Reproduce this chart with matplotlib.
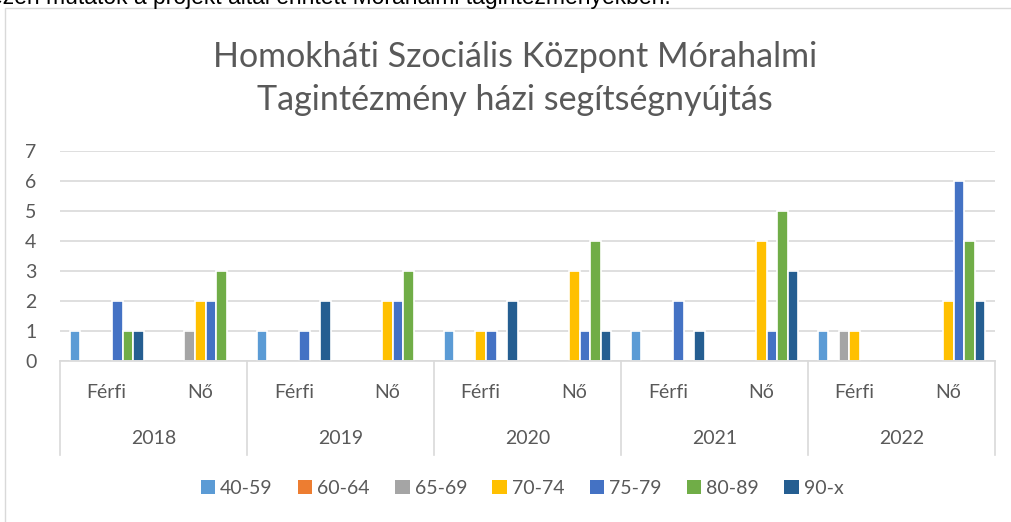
import matplotlib.pyplot as plt
import matplotlib.transforms as mtransforms
from matplotlib.patches import Rectangle
import numpy as np

plt.rcParams['font.family'] = ['Lato', 'DejaVu Sans']

years = ["2018", "2019", "2020", "2021", "2022"]
genders = ["Férfi", "Nő"]
series_names = ["40-59", "60-64", "65-69", "70-74", "75-79", "80-89", "90-x"]
colors = ["#5B9BD5", "#ED7D31", "#A5A5A5", "#FFC000", "#4472C4", "#70AD47", "#255E91"]

# values per category: 2018 Férfi, 2018 Nő, 2019 Férfi, ... 2022 Nő
s_40_59 = [1, 0, 1, 0, 1, 0, 1, 0, 1, 0]
s_60_64 = [0, 0, 0, 0, 0, 0, 0, 0, 0, 0]
s_65_69 = [0, 1, 0, 0, 0, 0, 0, 0, 1, 0]
s_70_74 = [0, 2, 0, 2, 1, 3, 0, 4, 1, 2]
s_75_79 = [2, 2, 1, 2, 1, 1, 2, 1, 0, 6]
s_80_89 = [1, 3, 0, 3, 0, 4, 0, 5, 0, 4]
s_90_x = [1, 0, 2, 0, 2, 1, 1, 3, 0, 2]
series = [s_40_59, s_60_64, s_65_69, s_70_74, s_75_79, s_80_89, s_90_x]

W, H = 1011, 522
fig = plt.figure(figsize=(W / 100, H / 100), dpi=100)

# chart border (runs past the image on right and bottom)
fig.patches.append(Rectangle((5 / W, -0.1), 1.2, 1 - 8 / H + 0.1, transform=fig.transFigure,
                             fill=False, edgecolor="#D9D9D9", linewidth=1))

# document text above the chart, cut by the screenshot edge
fig.text(-10 / W, 1 - 4 / H, "ezen mutatók a projekt által érintett Mórahalmi tagintézményekben.",
         fontsize=16.5, family="Liberation Sans", color="black", va="baseline", ha="left")

ax = fig.add_axes([60 / W, (H - 361) / H, (995 - 60) / W, (361 - 151) / H])

n_cat = len(years) * len(genders)
x = np.arange(n_cat)
slot = 0.79 / len(series)
for k, (name, vals, c) in enumerate(zip(series_names, series, colors)):
    offs = (k - (len(series) - 1) / 2) * slot
    v = np.array(vals, dtype=float)
    nz = v > 0
    ax.bar(x[nz] + offs, v[nz], width=slot, color=c, edgecolor="white", linewidth=1.2, zorder=3)
    ax.bar([np.nan], [np.nan], color=c, label=name)

ax.set_xlim(-0.5, n_cat - 0.5)
ax.set_ylim(0, 7)
ax.set_yticks(range(8))
ax.tick_params(axis="y", length=0, labelsize=14, labelcolor="#595959", pad=17)
ax.set_xticks([])
ax.grid(axis="y", color="#D9D9D9", linewidth=1.2, zorder=0)
for sp in ["top", "right", "left"]:
    ax.spines[sp].set_visible(False)
ax.spines["bottom"].set_color("#D9D9D9")
ax.spines["bottom"].set_linewidth(1.2)
ax.spines["bottom"].set_zorder(4)

trans = mtransforms.blended_transform_factory(ax.transData, ax.transAxes)
gender_y = -31 / 210
year_y = -77 / 210
line_bottom = -94 / 210
for i in range(n_cat):
    ax.text(x[i], gender_y, genders[i % 2], transform=trans, ha="center", va="center",
            fontsize=14, color="#595959")
for j, yr in enumerate(years):
    ax.text(2 * j + 0.5, year_y, yr, transform=trans, ha="center", va="center",
            fontsize=14, color="#595959")
for b in np.arange(-0.5, n_cat, 2):
    ax.plot([b, b], [0, line_bottom], transform=trans, color="#D9D9D9", linewidth=1.2, clip_on=False)

fig.text(515 / W, 1 - 57 / H, "Homokháti Szociális Központ Mórahalmi", ha="center", va="center",
         fontsize=24.5, color="#595959")
fig.text(515 / W, 1 - 100 / H, "Tagintézmény házi segítségnyújtás", ha="center", va="center",
         fontsize=24.5, color="#595959")

leg = fig.legend(loc="center", bbox_to_anchor=(522 / W, 1 - 488 / H), ncol=7, frameon=False,
                 handlelength=0.75, handleheight=0.75, handletextpad=0.25, columnspacing=1.3,
                 fontsize=14, labelcolor="#595959")

fig.savefig("out.png", dpi=100)
